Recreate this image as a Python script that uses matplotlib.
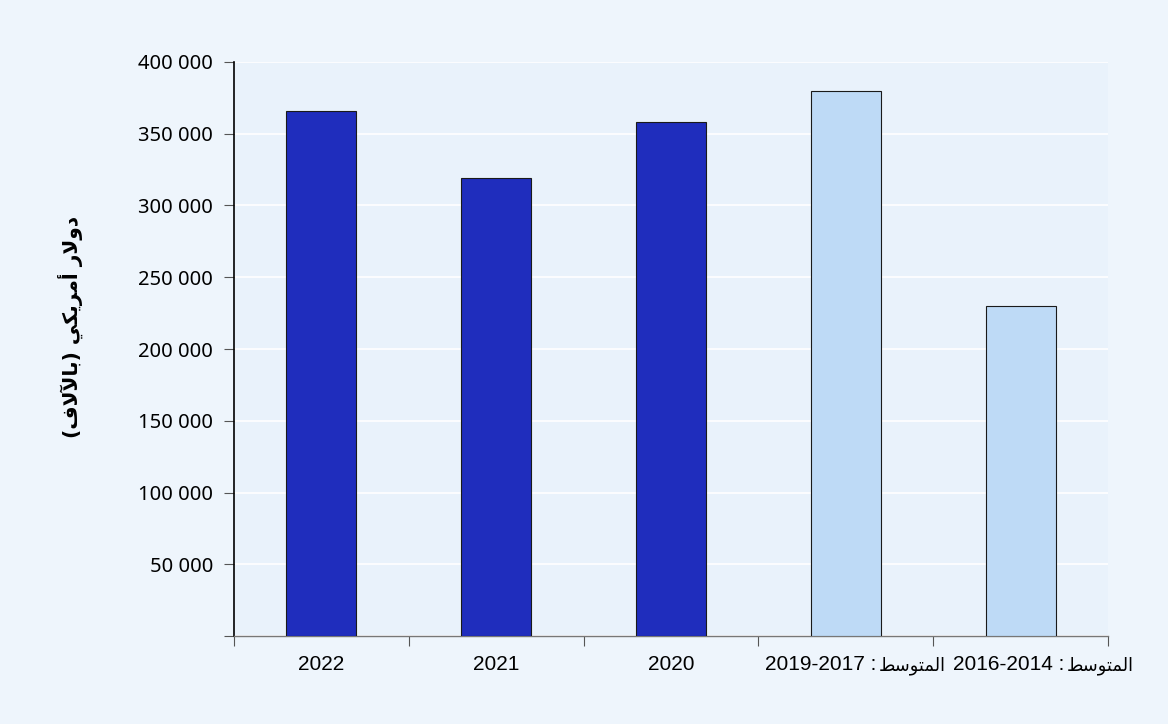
import matplotlib
matplotlib.use("Agg")
import matplotlib.pyplot as plt
from matplotlib.ticker import FuncFormatter, MultipleLocator

# Arabic text pre-shaped into presentation forms, in visual (left-to-right) order
AVG = "\ufec2\ufeb3\ufeee\ufe98\ufee4\ufedf\ufe8d"  # المتوسط
categories = ["2022", "2021", "2020", "2019-2017", "2016-2014"]
label_prefix = ["", "", "", AVG, AVG]   # Arabic word shown after the period
values = [366000, 319000, 358000, 380000, 230000]
bar_colors = ["#1f2dbd", "#1f2dbd", "#1f2dbd", "#bedaf6", "#bedaf6"]
ylabel = ("(" + "\ufed1\ufefb\ufef5\ufe8e\ufe91" + ")" + " "
          + "\ufef2\ufedc\ufef3\ufeae\ufee3\ufe83" + " "
          + "\ufead\ufefb\ufeed\ufea9")  # دولار أمريكي (بالآلاف)

fig = plt.figure(figsize=(11.68, 7.24), dpi=100, facecolor="#eef5fc")
ax = fig.add_axes([0.2003, 0.1215, 0.7483, 0.7929])
ax.set_facecolor("#e9f2fb")

x = list(range(len(categories)))
ax.bar(x, values, width=0.4, color=bar_colors, edgecolor="#1a1a1a", linewidth=0.8, zorder=3)

ax.set_xlim(-0.5, len(categories) - 0.5)
ax.set_ylim(0, 400000)
ax.yaxis.set_major_locator(MultipleLocator(50000))
ax.yaxis.set_major_formatter(FuncFormatter(lambda v, p: "" if v == 0 else f"{int(v):,}".replace(",", " ")))
ax.grid(axis="y", color="white", linewidth=1.2, zorder=0)
ax.set_axisbelow(True)

ax.set_xticks([i + 0.5 for i in range(-1, len(categories))])
ax.set_xticklabels([])
ax.tick_params(axis="x", which="major", length=7, direction="out", color="#555555")
ax.tick_params(axis="y", length=7, direction="out", color="#555555", pad=8)
for lab in ax.get_yticklabels():
    lab.set_fontfamily(["Noto Sans", "DejaVu Sans"])
    lab.set_fontsize(14.5)

# category labels
xt = ax.get_xaxis_transform()
split_px = {3: 31, 4: 44}
for xi, cat, pre in zip(x, categories, label_prefix):
    if pre:
        sp = split_px[xi]
        ax.annotate(cat + " :", xy=(xi, 0), xycoords=xt, xytext=(sp, -34),
                    textcoords="offset pixels", ha="right", va="baseline",
                    fontsize=15, family=["Liberation Sans", "DejaVu Sans"], annotation_clip=False)
        ax.annotate(pre, xy=(xi, 0), xycoords=xt, xytext=(sp + 2, -34),
                    textcoords="offset pixels", ha="left", va="baseline",
                    fontsize=12.8, family=["DejaVu Sans"], annotation_clip=False)
    else:
        ax.annotate(cat, xy=(xi, 0), xycoords=xt, xytext=(0, -34),
                    textcoords="offset pixels", ha="center", va="baseline",
                    fontsize=15, family=["Liberation Sans", "DejaVu Sans"], annotation_clip=False)

for s in ["top", "right"]:
    ax.spines[s].set_visible(False)
ax.spines["left"].set_color("black")
ax.spines["left"].set_linewidth(1.2)
ax.spines["bottom"].set_color("#777777")
ax.spines["bottom"].set_linewidth(1.0)

fig.text(0.06, 0.548, ylabel, rotation=90, fontsize=14.5, fontweight="bold",
         family=["DejaVu Sans"], ha="center", va="center")

fig.savefig("out.png", dpi=100, facecolor=fig.get_facecolor())
